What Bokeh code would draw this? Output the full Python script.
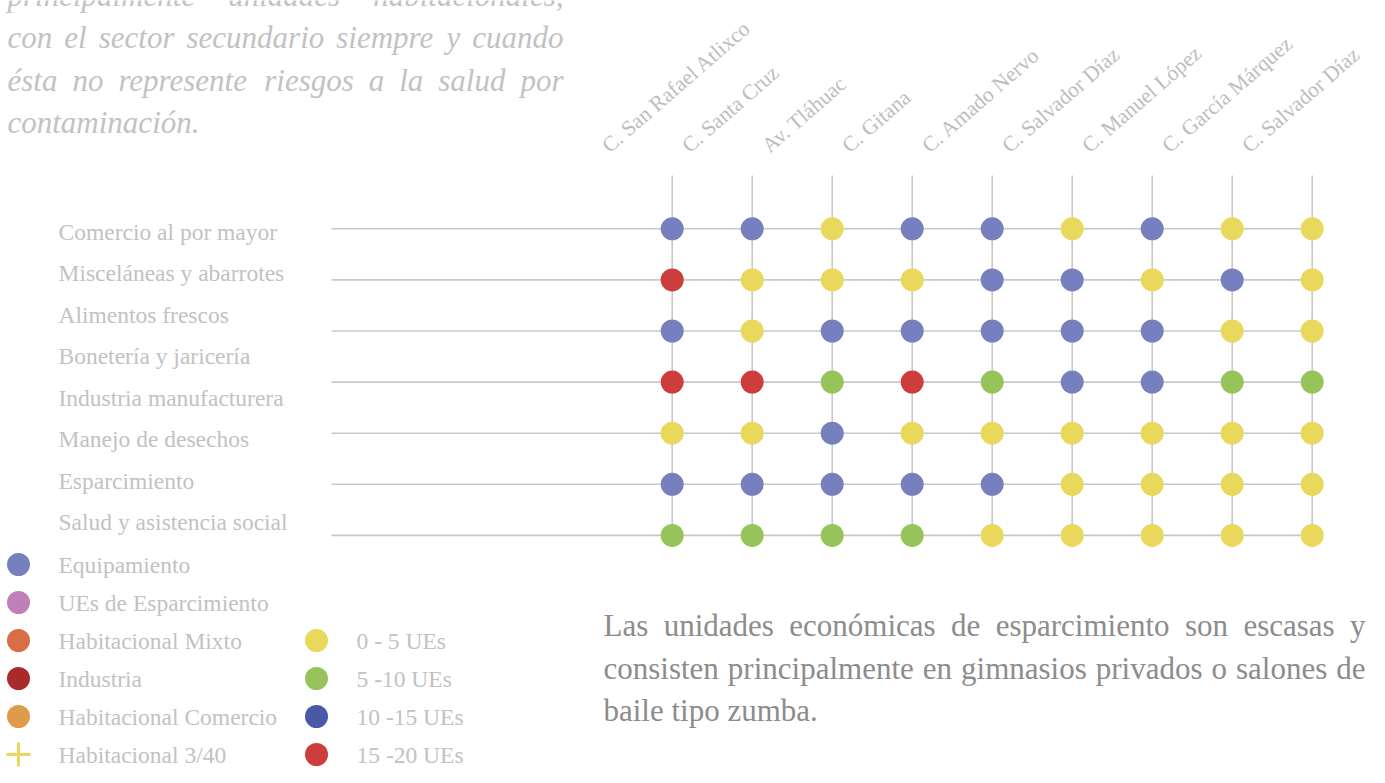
from bokeh.plotting import figure
from bokeh.models import Range1d
from bokeh.core.properties import value
from bokeh.embed import file_html
from bokeh.resources import INLINE

# ---------------- data ----------------
streets = ["C. San Rafael Atlixco", "C. Santa Cruz", "Av. Tláhuac", "C. Gitana",
           "C. Amado Nervo", "C. Salvador Díaz", "C. Manuel López",
           "C. García Márquez", "C. Salvador Díaz"]
sectors = ["Comercio al por mayor", "Misceláneas y abarrotes", "Alimentos frescos",
           "Bonetería y jaricería", "Industria manufacturera", "Manejo de desechos",
           "Esparcimiento", "Salud y asistencia social"]
ue_ranges = ["0 - 5 UEs", "5 -10 UEs", "10 -15 UEs", "15 -20 UEs"]
# index into ue_ranges, one row per grid line, one entry per street
grid = [
    [2, 2, 0, 2, 2, 0, 2, 0, 0],
    [3, 0, 0, 0, 2, 2, 0, 2, 0],
    [2, 0, 2, 2, 2, 2, 2, 0, 0],
    [3, 3, 1, 3, 1, 2, 2, 1, 1],
    [0, 0, 2, 0, 0, 0, 0, 0, 0],
    [2, 2, 2, 2, 2, 0, 0, 0, 0],
    [1, 1, 1, 1, 0, 0, 0, 0, 0],
]
land_use = ["Equipamiento", "UEs de Esparcimiento", "Habitacional Mixto", "Industria",
            "Habitacional Comercio", "Habitacional 3/40"]
top_text = ["principalmente unidades habitacionales,",
            "con el sector secundario siempre y cuando",
            "ésta no represente riesgos a la salud por",
            "contaminación."]
bottom_text = ["Las unidades económicas de esparcimiento son escasas y",
               "consisten principalmente en gimnasios privados o salones de",
               "baile tipo zumba."]

# ---------------- styles ----------------
dot_colors = ["#E8D85C", "#96C35A", "#7780BF", "#CC3D3B"]
range_legend_colors = ["#E8D85C", "#96C35A", "#4A58A8", "#CC3D3B"]
land_colors = ["#7780BF", "#BF80BA", "#D86E45", "#A92A2A", "#DE9C4A", "#E8D85C"]
land_markers = ["circle"] * 5 + ["cross"]
LIGHT = "#C2C2C2"
DARK = "#8C8C8C"
LINE = "#C8C8C8"
SERIF = value("Liberation Serif")

W, H = 1369, 767
p = figure(width=W, height=H, x_range=Range1d(0, W), y_range=Range1d(H, 0),
           x_axis_type=None, y_axis_type=None, toolbar_location=None,
           output_backend="svg", min_border=0, outline_line_color=None)
p.background_fill_color = "white"
p.border_fill_color = "white"

# grid mapping ranges (column index -> px, row index -> px)
COL0, DCOL = 671.7, 80.0
ROW0, DROW = 228.3, 51.1
p.extra_x_ranges = {"cols": Range1d((0 - COL0) / DCOL, (W - COL0) / DCOL)}
p.extra_y_ranges = {"rows": Range1d((H - ROW0) / DROW, (0 - ROW0) / DROW)}

ncol = len(streets)
nrow = len(grid)
line_start = (331 - COL0) / DCOL
vtop = (175 - ROW0) / DROW

# grid lines
p.segment(x0=[line_start] * nrow, y0=list(range(nrow)), x1=[ncol - 1] * nrow,
          y1=list(range(nrow)), x_range_name="cols", y_range_name="rows",
          line_color=LINE, line_width=1.6)
p.segment(x0=list(range(ncol)), y0=[vtop] * ncol, x1=list(range(ncol)),
          y1=[nrow - 1] * ncol, x_range_name="cols", y_range_name="rows",
          line_color=LINE, line_width=1.6)

# dots
xs, ys, cs = [], [], []
for j, row in enumerate(grid):
    for i, v in enumerate(row):
        xs.append(i)
        ys.append(j)
        cs.append(dot_colors[v])
p.scatter(x=xs, y=ys, size=23, fill_color=cs, line_color=None,
          x_range_name="cols", y_range_name="rows")

# column labels
p.text(x=list(range(ncol)), y=[148] * ncol, text=streets, x_range_name="cols",
       angle=41, angle_units="deg", x_offset=-67, text_align="left",
       text_baseline="alphabetic", text_font=SERIF, text_font_size="21.5px",
       text_color="#BDBDBD")

# sector labels
p.text(x=[58] * len(sectors), y=[231 + 41.5 * k for k in range(len(sectors))],
       text=sectors, text_align="left", text_baseline="middle", text_font=SERIF,
       text_font_size="23.5px", text_color=LIGHT)

# land use legend
LSTEP = 38.0
ly = [564 + LSTEP * k for k in range(len(land_use))]
for k in range(len(land_use)):
    if land_markers[k] == "cross":
        p.scatter(x=[18], y=[ly[k]], marker="cross", size=24, line_color=land_colors[k],
                  line_width=3)
    else:
        p.scatter(x=[18], y=[ly[k]], size=23, fill_color=land_colors[k], line_color=None)
p.text(x=[58] * len(land_use), y=ly, text=land_use, text_align="left",
       text_baseline="middle", text_font=SERIF, text_font_size="23.5px", text_color=LIGHT)

# UE range legend (aligned with the last four land-use rows)
ry = ly[len(land_use) - len(ue_ranges):]
p.scatter(x=[316] * len(ue_ranges), y=ry, size=23, fill_color=range_legend_colors,
          line_color=None)
p.text(x=[356] * len(ue_ranges), y=ry, text=ue_ranges, text_align="left",
       text_baseline="middle", text_font=SERIF, text_font_size="23.5px", text_color=LIGHT)

# ---------------- justified paragraphs ----------------
TR = dict(zip("abcdefghijklmnopqrstuvwxyz",
              [444, 500, 444, 500, 444, 333, 500, 500, 278, 278, 500, 278, 778, 500, 500,
               500, 500, 333, 389, 278, 500, 500, 722, 500, 500, 444]))
TI = dict(zip("abcdefghijklmnopqrstuvwxyz",
              [500, 500, 444, 500, 444, 278, 500, 500, 278, 278, 444, 278, 722, 500, 500,
               500, 500, 389, 389, 278, 500, 444, 667, 444, 444, 389]))
EXTRA = {",": 250, ".": 250, "L": 611, "C": 667, " ": 250}
PLAIN = str.maketrans("áéíóú", "aeiou")


def word_width(w, table, fs):
    return sum(table.get(ch, EXTRA.get(ch, 500)) for ch in w.translate(PLAIN)) * fs / 1000.0


def paragraph(lines, left, right, mid0, lead, fs, italic, color):
    table = TI if italic else TR
    wx, wy, wt = [], [], []
    for n, line in enumerate(lines):
        y = mid0 + lead * n
        words = line.split(" ")
        if n == len(lines) - 1 or len(words) == 1:
            wx.append(left); wy.append(y); wt.append(line)
            continue
        widths = [word_width(w, table, fs) for w in words]
        gap = (right - left - sum(widths)) / (len(words) - 1)
        x = left
        for w, ww in zip(words, widths):
            wx.append(x); wy.append(y); wt.append(w)
            x += ww + gap
    p.text(x=wx, y=wy, text=wt, text_align="left", text_baseline="middle",
           text_font=SERIF, text_font_size=f"{fs}px",
           text_font_style="italic" if italic else "normal", text_color=color)


paragraph(top_text, 7, 563, -5.5, 42.5, 31, True, LIGHT)
paragraph(bottom_text, 603, 1365, 625, 42.5, 31, False, DARK)

open("out.html", "w").write(file_html(p, INLINE))
